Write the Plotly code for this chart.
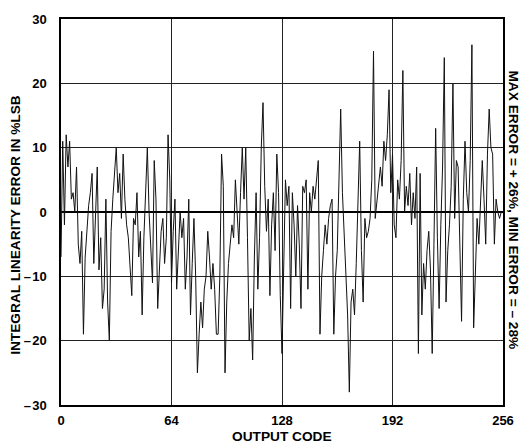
import plotly.graph_objects as go

# Output codes 0..255
codes = list(range(256))

# Integral linearity error (%LSB)
err_0_63 = [-7, 11, -2, 12, 7, 11, 2, 3, 0, 7, -5, -8, -3, -19, -7, -2,
            1, 3, 6, -8, 0, 7, -9, -4, -15, -12, 2, -14, -20, -3, 2, 6,
            10, 3, 6, -1, 9, 2, -2, -4, -9, -13, -1, -2, 3, -7, -3, -16,
            -4, 4, 10, 0, -6, -11, 8, 2, -15, -8, -3, -1, -8, -4, 12, 5]
err_64_127 = [-11, -3, 2, -12, -6, 0, -4, -1, -12, -7, 2, -16, -8, -1, -10, -25,
              -19, -14, -18, -12, -10, -3, -7, -12, -8, -12, -19, -19, -10, 9, 4, -25,
              -14, -8, -5, -2, -4, 5, 0, -5, 3, 10, 2, 10, -4, -20, -15, -23,
              -7, 3, -12, -4, 10, 17, 4, -3, 2, -13, -2, 3, -6, 9, 3, -13]
err_128_191 = [-22, -8, 5, 1, 4, -15, 3, -2, -10, 1, -5, -15, 4, 3, 5, -12,
               3, 0, 4, 2, 5, 8, -19, -10, -6, -2, -5, -1, 1, 2, -19, -10,
               -6, 8, 16, 3, -4, -10, -16, -28, -14, -12, -16, -8, 2, 11, -6, -14,
               -1, -4, -3, -1, 5, 25, -1, 2, 4, 7, 4, 11, 8, 12, 19, 3]
err_192_255 = [9, -2, -4, 5, 2, 8, 22, 0, 4, 1, 6, -2, 3, -1, 7, -22,
               6, -16, -8, -12, -6, -3, -9, -22, -5, 13, -4, -15, -2, 7, 24, -14,
               -6, -2, 4, 20, -1, 8, 7, -5, -17, 2, 11, 3, 0, 8, 26, -18,
               -10, -1, -5, 3, 8, 2, -5, 9, 16, 10, 9, -5, 2, 0, -1, 0]
errors = err_0_63 + err_64_127 + err_128_191 + err_192_255

x_ticks = [0, 64, 128, 192, 256]
x_labels = ["0", "64", "128", "192", "256"]
y_ticks = [30, 20, 10, 0, -10, -20, -30]
y_labels = ["30", "20", "10", "0", "–\u200a10", "–\u200a20", "–\u200a30"]

FONT = "Liberation Sans"
TICK_SIZE = 13
TITLE_SIZE = 13.7

fig = go.Figure()
fig.add_trace(go.Scatter(x=codes, y=errors, mode="lines",
                         line=dict(color="#111111", width=1),
                         hoverinfo="skip", showlegend=False))

fig.update_layout(
    width=528, height=445,
    margin=dict(l=61, r=25, t=12, b=40),
    paper_bgcolor="white", plot_bgcolor="white",
    font=dict(family=FONT, color="black", size=12),
    xaxis=dict(range=[0, 256], tickvals=x_ticks, ticktext=x_labels,
               showgrid=True, gridcolor="#222222", gridwidth=1,
               zeroline=False, showline=True, linecolor="black", linewidth=1.5,
               mirror=True, ticks="", ticklabelstandoff=3,
               tickfont=dict(family=FONT, size=TICK_SIZE, weight="bold")),
    yaxis=dict(range=[-30, 30], tickvals=y_ticks, ticktext=y_labels,
               showgrid=True, gridcolor="#222222", gridwidth=1,
               zeroline=True, zerolinecolor="black", zerolinewidth=2,
               showline=True, linecolor="black", linewidth=1.5,
               mirror=True, ticks="", ticklabelstandoff=10,
               tickfont=dict(family=FONT, size=TICK_SIZE, weight="bold")),
    annotations=[
        dict(text="OUTPUT CODE", xref="paper", yref="paper", x=0.5, y=-0.056,
             yanchor="top", showarrow=False,
             font=dict(family=FONT, size=TITLE_SIZE, weight="bold")),
        dict(text="INTEGRAL LINEARITY ERROR IN %LSB", xref="paper", yref="paper",
             x=-0.103, y=0.468, textangle=-90, showarrow=False,
             xanchor="center", yanchor="middle",
             font=dict(family=FONT, size=TITLE_SIZE, weight="bold")),
        dict(text="MAX ERROR = + 26%, MIN ERROR = – 28%", xref="paper", yref="paper",
             x=1.024, y=0.505, textangle=90, showarrow=False,
             xanchor="center", yanchor="middle",
             font=dict(family=FONT, size=TITLE_SIZE, weight="bold")),
    ],
)

fig.write_html("out.html")
